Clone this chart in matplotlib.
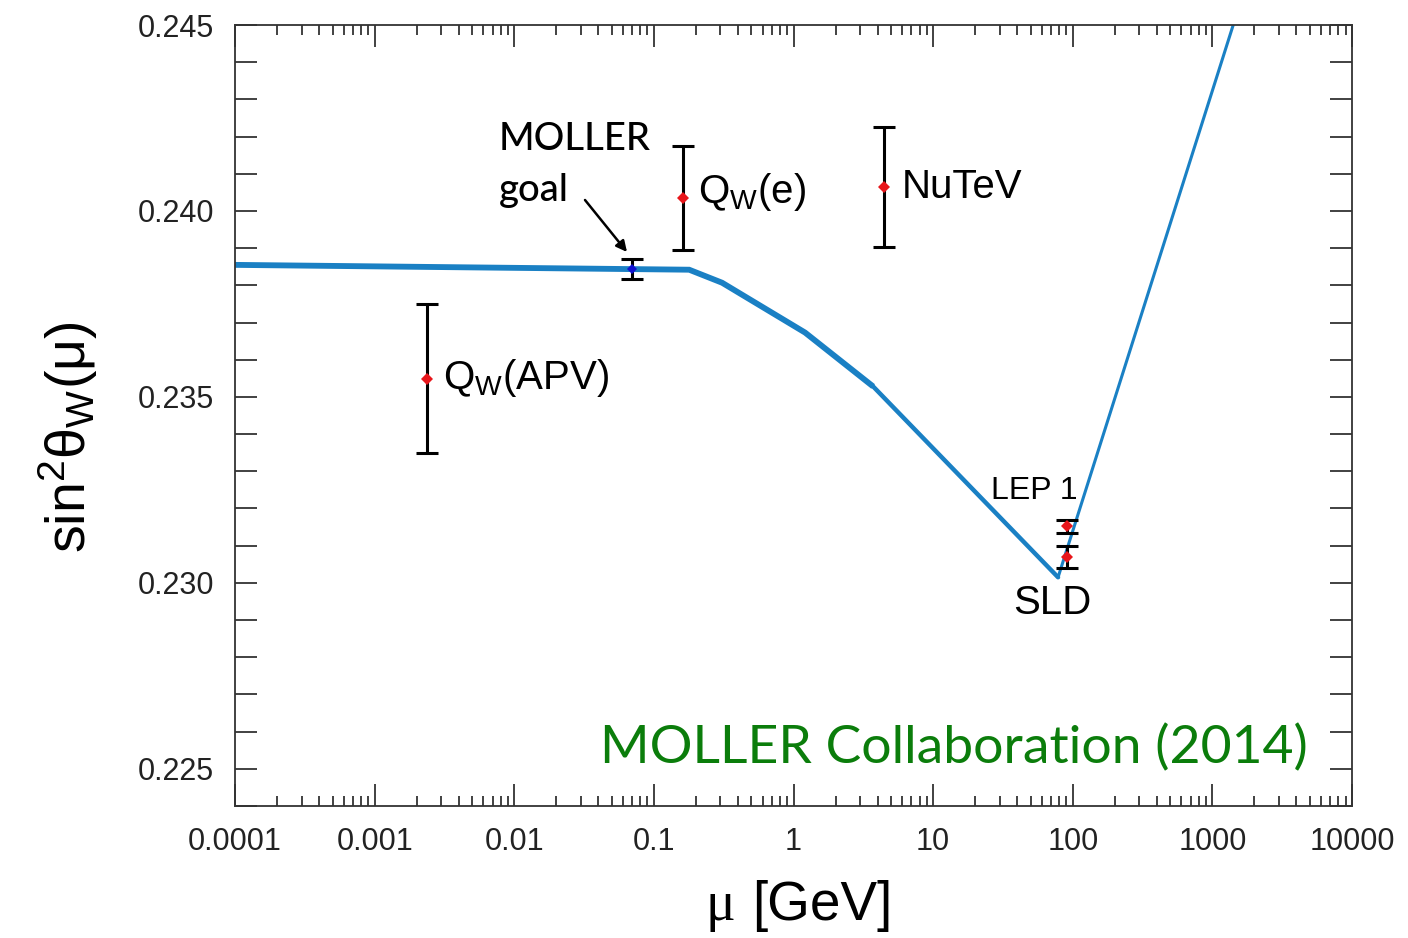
import matplotlib
matplotlib.use("Agg")
import matplotlib.pyplot as plt
from matplotlib.ticker import LogLocator, FixedLocator, MultipleLocator, FixedFormatter
import numpy as np

# ---- data ----
curve_mu = [0.0001, 0.179, 0.308, 1.21, 3.72, 78.5, 1410.0]
curve_s2w = [0.23855, 0.23842, 0.23807, 0.23673, 0.23528, 0.23015, 0.2450]

exp_names = ["Q_W(APV)", "MOLLER goal", "Q_W(e)", "NuTeV", "LEP 1", "SLD"]
exp_mu = [0.00237, 0.0698, 0.162, 4.46, 91.2, 91.2]
exp_s2w = [0.23549, 0.23844, 0.24035, 0.24064, 0.23152, 0.23069]
exp_err = [0.00200, 0.00028, 0.00140, 0.00162, 0.00018, 0.00029]
exp_colors = ["#e8161b", "#1010d0", "#e8161b", "#e8161b", "#e8161b", "#e8161b"]

xtick_vals = [0.0001, 0.001, 0.01, 0.1, 1, 10, 100, 1000, 10000]
xtick_labels = ["0.0001", "0.001", "0.01", "0.1", "1", "10", "100", "1000", "10000"]
ytick_vals = [0.225, 0.230, 0.235, 0.240, 0.245]
ytick_labels = ["0.225", "0.230", "0.235", "0.240", "0.245"]

W, H = 1408, 938
fig = plt.figure(figsize=(W / 100, H / 100), dpi=100)
ax = fig.add_axes([235 / W, 1 - 806 / H, (1352 - 235) / W, (806 - 25) / H])

def px(x, y):
    return x / W, 1 - y / H

plt.rcParams['mathtext.fontset'] = 'custom'
plt.rcParams['mathtext.rm'] = 'Liberation Sans'
plt.rcParams['mathtext.it'] = 'Liberation Sans'
plt.rcParams['mathtext.bf'] = 'Liberation Sans:bold'

line_col = "#1a80c4"
# curve in segments of decreasing thickness
ax.plot(curve_mu[:5], curve_s2w[:5], color=line_col, lw=4.2, solid_capstyle='butt', solid_joinstyle='miter', zorder=2)
ax.plot(curve_mu[4:6], curve_s2w[4:6], color=line_col, lw=3.2, solid_capstyle='round', zorder=2)
ax.plot(curve_mu[5:], curve_s2w[5:], color=line_col, lw=2.2, solid_capstyle='round', zorder=2)

for m, s, e, c in zip(exp_mu, exp_s2w, exp_err, exp_colors):
    ax.errorbar([m], [s], yerr=[e], fmt='none', ecolor='black', elinewidth=2.2,
                capsize=8, capthick=2.2, zorder=3)
    ax.plot([m], [s], marker='D', color=c, markersize=6.5 if c != "#1010d0" else 5,
            markeredgewidth=0, zorder=4, linestyle='none')

ax.set_xscale('log')
ax.set_xlim(0.0001, 10000)
ax.set_ylim(0.224, 0.245)

ax.xaxis.set_major_locator(FixedLocator(xtick_vals))
ax.xaxis.set_major_formatter(FixedFormatter(xtick_labels))
ax.xaxis.set_minor_locator(LogLocator(base=10, subs=np.arange(2, 10), numticks=100))
ax.xaxis.set_minor_formatter(plt.NullFormatter())
ax.yaxis.set_major_locator(FixedLocator(ytick_vals))
ax.yaxis.set_major_formatter(FixedFormatter(ytick_labels))
ax.yaxis.set_minor_locator(MultipleLocator(0.001))

tick_col = "#333333"
ax.tick_params(which='both', direction='in', top=True, right=True, color=tick_col, width=1.3)
ax.tick_params(which='major', length=16, labelsize=22)
ax.tick_params(axis='x', which='major', pad=15)
ax.tick_params(axis='y', which='major', pad=15)
ax.tick_params(axis='x', which='minor', length=7)
ax.tick_params(axis='y', which='minor', length=16)
for lab in ax.get_xticklabels() + ax.get_yticklabels():
    lab.set_fontfamily('Liberation Sans')
    lab.set_color('#222222')
for sp in ax.spines.values():
    sp.set_color(tick_col)
    sp.set_linewidth(1.3)

# axis labels
fig.text(*px(68, 437), r'$\mathrm{sin}^{2}\mathrm{\theta}_{W}(\mu)$', rotation=90,
         ha='center', va='center', fontsize=40, color='black')
fig.text(*px(720, 906), 'μ', family='Liberation Serif', fontsize=40, ha='center', va='center')
fig.text(*px(822, 906), '[GeV]', family='Liberation Sans', fontsize=39.5, ha='center', va='center')

# annotations
fs = 29
fig.text(*px(443, 378), r'Q$_\mathrm{W}$(APV)', family='Liberation Sans', fontsize=fs, ha='left', va='center')
fig.text(*px(698, 192), r'Q$_\mathrm{W}$(e)', family='Liberation Sans', fontsize=fs, ha='left', va='center')
fig.text(*px(902, 187), 'NuTeV', family='Liberation Sans', fontsize=fs, ha='left', va='center')
fig.text(*px(991, 491), 'LEP 1', family='Liberation Sans', fontsize=23, ha='left', va='center')
fig.text(*px(1013, 603), 'SLD', family='Liberation Sans', fontsize=29, ha='left', va='center')
fig.text(*px(499, 139), 'MOLLER', family='Lato', fontsize=27.5, fontweight='medium', ha='left', va='center')
fig.text(*px(499, 190), 'goal', family='Lato', fontsize=27.5, fontweight='medium', ha='left', va='center')
fig.text(*px(1308, 748), 'MOLLER Collaboration (2014)', family='Lato', fontsize=38.5,
         color='#0b7d0b', ha='right', va='center')

ax.annotate('', xy=px(627, 252), xycoords='figure fraction', xytext=px(585, 200),
            textcoords='figure fraction',
            arrowprops=dict(arrowstyle='-|>', color='black', lw=1.8, mutation_scale=16,
                            shrinkA=0, shrinkB=0))

fig.savefig('out.png', dpi=100)
